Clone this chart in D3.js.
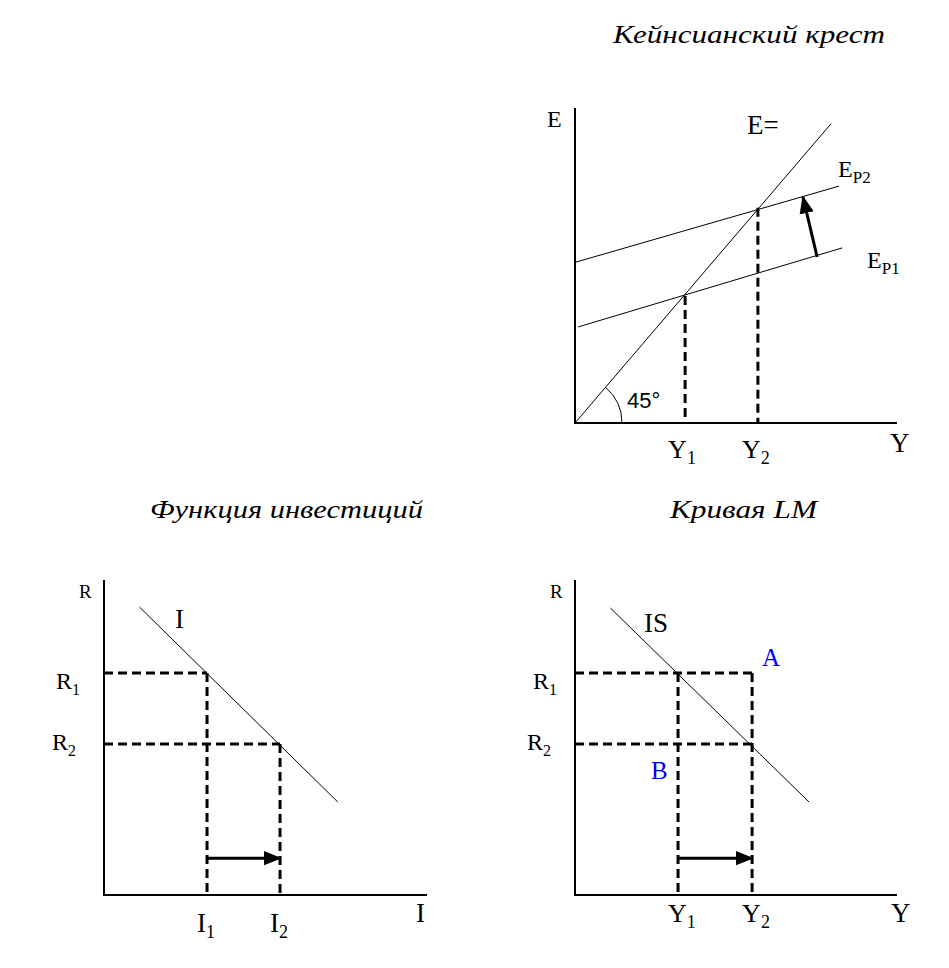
<!DOCTYPE html>
<html>
<head>
<meta charset="utf-8">
<script src="https://cdn.jsdelivr.net/npm/d3@7"></script>
<style>
    html, body { margin: 0; padding: 0; background: #fff; }
    svg { display: block; }
    .lbl { font-family: "Liberation Serif", "DejaVu Serif", serif; fill: #000; }
    .ttl { font-family: "Liberation Serif", "DejaVu Serif", serif; font-style: italic; fill: #000; }
</style>
</head>
<body>
<div id="chart"></div>
<script>
// Keynesian cross (values in 0..100 units of each panel)
const crossLine45 = [[0, 0], [79.5, 95]];
const crossEp1 = [[1, 30.5], [83, 55.6]];
const crossEp2 = [[0, 51], [82, 75.2]];
const crossEquilibria = [[34.2, 40.3], [56.8, 68.3]];
const crossShift = [[75.2, 52.7], [70.8, 71.7]];

// Investment function
const investLine = [[11, 91.4], [72.4, 29.5]];
const investRates = [70.5, 47.9];
const investLevels = [31.9, 54.5];
const investShiftY = 11.7;

// IS curve panel
const isLine = [[11, 91.1], [72.7, 29.5]];
const isRates = [70.5, 47.9];
const isIncomes = [32, 55];
const isShiftY = 11.7;

const titles = ["Кейнсианский крест", "Функция инвестиций", "Кривая LM"];

const width = 949, height = 968;
const svg = d3.select('#chart').append('svg')
    .attr('width', width)
    .attr('height', height)
    .attr('viewBox', [0, 0, width, height]);

const defs = svg.append('defs');
defs.append('marker')
    .attr('id', 'head')
    .attr('viewBox', '0 0 10 10')
    .attr('refX', 9).attr('refY', 5)
    .attr('markerWidth', 6).attr('markerHeight', 6)
    .attr('markerUnits', 'strokeWidth')
    .attr('orient', 'auto')
    .append('path').attr('d', 'M0,1 L10,5 L0,9 Z').attr('fill', '#000');

const line = (x, y) => d3.line().x(d => x(d[0])).y(d => y(d[1]));

function axes(g, x, y) {
    g.append('path')
        .attr('d', `M${x(0)},${y(100)} V${y(0)} H${x(100)}`)
        .attr('fill', 'none').attr('stroke', '#000').attr('stroke-width', 2);
}

function dashed(g, pts, x, y) {
    g.append('path')
        .attr('d', line(x, y)(pts))
        .attr('fill', 'none').attr('stroke', '#000')
        .attr('stroke-width', 3).attr('stroke-dasharray', '9,5');
}

function thin(g, pts, x, y) {
    g.append('path')
        .attr('d', line(x, y)(pts))
        .attr('fill', 'none').attr('stroke', '#000').attr('stroke-width', 1);
}

function arrow(g, pts, x, y) {
    g.append('path')
        .attr('d', line(x, y)(pts))
        .attr('fill', 'none').attr('stroke', '#000').attr('stroke-width', 3)
        .attr('marker-end', 'url(#head)');
}

// text with optional subscript
function label(g, px, py, main, sub, size, subSize, color) {
    const t = g.append('text').attr('class', 'lbl')
        .attr('x', px).attr('y', py)
        .style('font-size', size + 'px')
        .style('fill', color || '#000')
        .text(main);
    if (sub) {
        t.append('tspan')
            .attr('dy', subSize * 0.35)
            .style('font-size', subSize + 'px')
            .text(sub);
    }
    return t;
}

function title(txt, cx, py, len) {
    svg.append('text').attr('class', 'ttl')
        .attr('x', cx).attr('y', py)
        .attr('textLength', len).attr('lengthAdjust', 'spacingAndGlyphs')
        .style('font-size', '25px')
        .text(txt);
}

// ---------- Panel 1: Keynesian cross ----------
{
    const x = d3.scaleLinear().domain([0, 100]).range([575, 897]);
    const y = d3.scaleLinear().domain([0, 100]).range([423, 108]);
    const g = svg.append('g');

    thin(g, crossLine45, x, y);
    thin(g, crossEp1, x, y);
    thin(g, crossEp2, x, y);
    crossEquilibria.forEach(p => dashed(g, [p, [p[0], 0]], x, y));
    arrow(g, crossShift, x, y);
    axes(g, x, y);

    // 45 degree arc
    const ang = Math.atan2(y(0) - y(crossLine45[1][1]), x(crossLine45[1][0]) - x(0));
    const p = d3.path();
    const r = 47;
    p.arc(x(0), y(0), r, -ang, 0);
    g.append('path').attr('d', p.toString())
        .attr('fill', 'none').attr('stroke', '#000').attr('stroke-width', 1);

    label(g, 627, 408, '45°', null, 22).style('font-family', '"Liberation Sans", Arial, sans-serif');
    label(g, 547, 127, 'E', null, 24);
    label(g, 747, 134, 'E=', null, 27);
    label(g, 838, 177, 'E', 'P2', 24, 17);
    label(g, 867, 268, 'E', 'P1', 24, 17);
    label(g, x(crossEquilibria[0][0]) - 17, 458, 'Y', '1', 26, 18);
    label(g, x(crossEquilibria[1][0]) - 16, 458, 'Y', '2', 26, 18);
    label(g, 890, 452, 'Y', null, 27);

    title(titles[0], 613, 43, 272);
}

// ---------- Panel 2: investment function ----------
{
    const x = d3.scaleLinear().domain([0, 100]).range([104, 427]);
    const y = d3.scaleLinear().domain([0, 100]).range([895, 580]);
    const g = svg.append('g');

    thin(g, investLine, x, y);
    investRates.forEach((r, i) => dashed(g, [[0, r], [investLevels[i], r]], x, y));
    investLevels.forEach((l, i) => dashed(g, [[l, investRates[i]], [l, 0]], x, y));
    arrow(g, [[investLevels[0], investShiftY], [investLevels[1], investShiftY]], x, y);
    axes(g, x, y);

    label(g, 79, 598, 'R', null, 19);
    label(g, 175, 628, 'I', null, 27);
    label(g, 56, 689, 'R', '1', 24, 16);
    label(g, 52, 750, 'R', '2', 24, 16);
    label(g, x(investLevels[0]) - 10, 932, 'I', '1', 27, 18);
    label(g, x(investLevels[1]) - 10, 932, 'I', '2', 27, 18);
    label(g, 416, 922, 'I', null, 27);

    title(titles[1], 150, 518, 273);
}

// ---------- Panel 3: IS curve ----------
{
    const x = d3.scaleLinear().domain([0, 100]).range([575, 897]);
    const y = d3.scaleLinear().domain([0, 100]).range([895, 580]);
    const g = svg.append('g');

    thin(g, isLine, x, y);
    dashed(g, [[0, isRates[0]], [isIncomes[1], isRates[0]]], x, y);
    dashed(g, [[0, isRates[1]], [isIncomes[1], isRates[1]]], x, y);
    dashed(g, [[isIncomes[0], isRates[0]], [isIncomes[0], 0]], x, y);
    dashed(g, [[isIncomes[1], isRates[0]], [isIncomes[1], 0]], x, y);
    arrow(g, [[isIncomes[0], isShiftY], [isIncomes[1], isShiftY]], x, y);
    axes(g, x, y);

    label(g, 550, 598, 'R', null, 19);
    label(g, 644, 632, 'IS', null, 27);
    label(g, 762, 666, 'A', null, 25, 0, '#0000ff');
    label(g, 651, 779, 'B', null, 25, 0, '#0000ff');
    label(g, 533, 689, 'R', '1', 24, 16);
    label(g, 527, 750, 'R', '2', 24, 16);
    label(g, x(isIncomes[0]) - 10, 922, 'Y', '1', 26, 18);
    label(g, x(isIncomes[1]) - 10, 922, 'Y', '2', 26, 18);
    label(g, 891, 922, 'Y', null, 27);

    title(titles[2], 670, 518, 147);
}
</script>
</body>
</html>
